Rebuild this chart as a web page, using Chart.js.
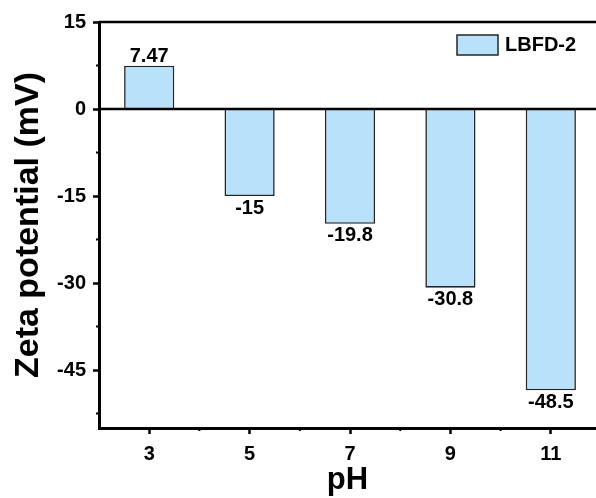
<!DOCTYPE html>
<html>
<head>
<meta charset="utf-8">
<script src="https://cdn.jsdelivr.net/npm/chart.js@4"></script>
<style>
  body { margin: 0; background: #fff; }
</style>
</head>
<body>
<canvas id="myChart" width="596" height="498"></canvas>
<script>
var phValues = [3, 5, 7, 9, 11];
var zetaValues = [7.47, -15, -19.8, -30.8, -48.5];
var valueLabels = ["7.47", "-15", "-19.8", "-30.8", "-48.5"];
var yMajorTicks = [15, 0, -15, -30, -45];
var yMinorTicks = [7.5, -7.5, -22.5, -37.5, -52.5];
var xMajorTicks = [3, 5, 7, 9, 11];
var xMinorTicks = [4, 6, 8, 10];

var FONT = "'Liberation Sans', Arial, sans-serif";
Chart.defaults.color = '#000';
Chart.defaults.font.family = FONT;

// minor ticks, zero line, frame top, value labels, legend
var extras = {
  id: 'extras',
  afterDatasetsDraw: function(chart) {
    var c = chart.ctx, a = chart.chartArea;
    var x = chart.scales.x, y = chart.scales.y;
    c.save();
    c.strokeStyle = '#000';
    c.lineWidth = 2.5;
    c.beginPath();
    var y0 = y.getPixelForValue(0);
    c.moveTo(a.left, y0); c.lineTo(a.right, y0);
    c.moveTo(a.left, a.top); c.lineTo(a.right, a.top);
    c.stroke();

    c.lineWidth = 2;
    c.beginPath();
    yMinorTicks.forEach(function(v) {
      var p = y.getPixelForValue(v);
      c.moveTo(a.left - 3, p); c.lineTo(a.left, p);
    });
    xMinorTicks.forEach(function(v) {
      var p = x.getPixelForValue(v);
      c.moveTo(p, a.bottom); c.lineTo(p, a.bottom + 3);
    });
    c.stroke();

    c.fillStyle = '#000';
    c.font = 'bold 20px ' + FONT;
    c.textAlign = 'center';
    chart.getDatasetMeta(0).data.forEach(function(bar, i) {
      if (zetaValues[i] >= 0) {
        c.textBaseline = 'alphabetic';
        c.fillText(valueLabels[i], bar.x, bar.y - 4);
      } else {
        c.textBaseline = 'top';
        c.fillText(valueLabels[i], bar.x, bar.y + 2);
      }
    });

    var ds = chart.data.datasets[0];
    var bx = a.right - 139, by = a.top + 13;
    c.fillStyle = ds.backgroundColor;
    c.fillRect(bx, by, 41, 20);
    c.strokeStyle = ds.borderColor;
    c.lineWidth = 1.5;
    c.strokeRect(bx, by, 41, 20);
    c.fillStyle = '#000';
    c.font = 'bold 20px ' + FONT;
    c.textAlign = 'left';
    c.textBaseline = 'middle';
    c.fillText(ds.label, bx + 48, by + 10);
    c.restore();
  }
};

var ctx = document.getElementById("myChart").getContext('2d');
var myChart = new Chart(ctx, {
  type: 'bar',
  data: {
    datasets: [{
      label: 'LBFD-2',
      data: phValues.map(function(p, i) { return { x: p, y: zetaValues[i] }; }),
      backgroundColor: 'rgb(185,226,250)',
      borderColor: '#262626',
      borderWidth: 1.6,
      barPercentage: 0.5,
      categoryPercentage: 1
    }]
  },
  plugins: [extras],
  options: {
    responsive: false,
    animation: false,
    layout: { padding: { top: 22, right: 0, left: 0, bottom: 0 } },
    plugins: {
      legend: { display: false },
      tooltip: { enabled: false }
    },
    scales: {
      x: {
        type: 'linear',
        offset: false,
        min: 2,
        max: 11.9,
        afterFit: function(s) { s.height = 70; },
        afterBuildTicks: function(s) {
          s.ticks = xMajorTicks.map(function(v) { return { value: v }; });
        },
        grid: { display: true, offset: false, drawOnChartArea: false, drawTicks: true, tickLength: 6, tickWidth: 2.5, tickColor: '#000' },
        border: { display: true, width: 3, color: '#000' },
        ticks: { font: { size: 20, weight: 'bold' }, padding: 8, maxRotation: 0 },
        title: { display: true, text: 'pH', font: { size: 31, weight: 'bold', lineHeight: 1 }, padding: { top: 0, bottom: 2 } }
      },
      y: {
        min: -55,
        max: 15,
        afterFit: function(s) { s.width = 99; },
        afterBuildTicks: function(s) {
          s.ticks = yMajorTicks.map(function(v) { return { value: v }; });
        },
        grid: { display: true, drawOnChartArea: false, drawTicks: true, tickLength: 6, tickWidth: 2.5, tickColor: '#000' },
        border: { display: true, width: 3, color: '#000' },
        ticks: { font: { size: 20, weight: 'bold' }, padding: 7 },
        title: { display: true, text: 'Zeta potential (mV)', font: { size: 34, weight: 'bold', lineHeight: 1 }, padding: { top: 12, bottom: 0 } }
      }
    }
  }
});
</script>
</body>
</html>
